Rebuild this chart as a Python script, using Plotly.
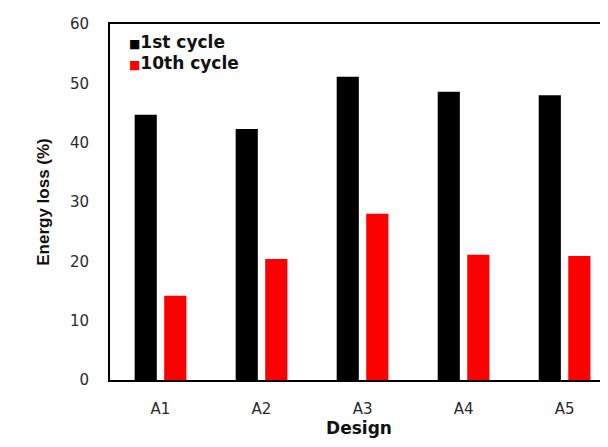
import plotly.graph_objects as go

designs = ["A1", "A2", "A3", "A4", "A5"]
series_names = ["1st cycle", "10th cycle"]
cycle1 = [44.7, 42.3, 51.1, 48.6, 48.0]
cycle10 = [14.2, 20.4, 28.0, 21.1, 20.9]
colors = ["#000000", "#ff0000"]
y_ticks = [0, 10, 20, 30, 40, 50, 60]

WIDE = "DejaVu Sans, Verdana, sans-serif"
NARROW = "Liberation Sans, Arial, sans-serif"

fig = go.Figure()
for name, vals, col in zip(series_names, [cycle1, cycle10], colors):
    fig.add_trace(go.Bar(x=designs, y=vals, name=name, marker_color=col,
                         marker_line_width=0))

# legend drawn as text annotations (compact marker + bold label)
legend_y = [0.949, 0.890]
annotations = []
for name, col, yy in zip(series_names, colors, legend_y):
    annotations.append(dict(
        xref="paper", yref="paper", x=0.034, y=yy, xanchor="left", yanchor="middle",
        showarrow=False, align="left",
        text=f"<span style='color:{col};font-size:12px'>■</span><b>{name}</b>",
        font=dict(family=WIDE, size=17, color="#111"),
    ))

fig.update_layout(
    width=600, height=439,
    margin=dict(l=102, r=0, t=16, b=67),
    paper_bgcolor="white", plot_bgcolor="white",
    barmode="group", bargap=0.415, bargroupgap=0.25,
    showlegend=False,
    annotations=annotations,
    xaxis=dict(
        range=[-0.5, 4.43], showline=True, linecolor="#000", linewidth=2,
        mirror=True, ticks="", showgrid=False,
        tickfont=dict(family=WIDE, size=15, color="#2a2a2a"),
        ticklabelstandoff=14,
        title=dict(text="Design", font=dict(family=WIDE, size=17, color="#111", weight="bold"), standoff=4),
    ),
    yaxis=dict(
        range=[0, 60], tickvals=y_ticks, showline=True, linecolor="#000", linewidth=2,
        ticks="", showgrid=False, zeroline=False,
        tickfont=dict(family=WIDE, size=15, color="#2a2a2a"),
        ticklabelstandoff=16,
        title=dict(text="Energy loss (%)", font=dict(family=NARROW, size=17, color="#111", weight="bold"), standoff=16),
    ),
)

fig.write_html("out.html")
